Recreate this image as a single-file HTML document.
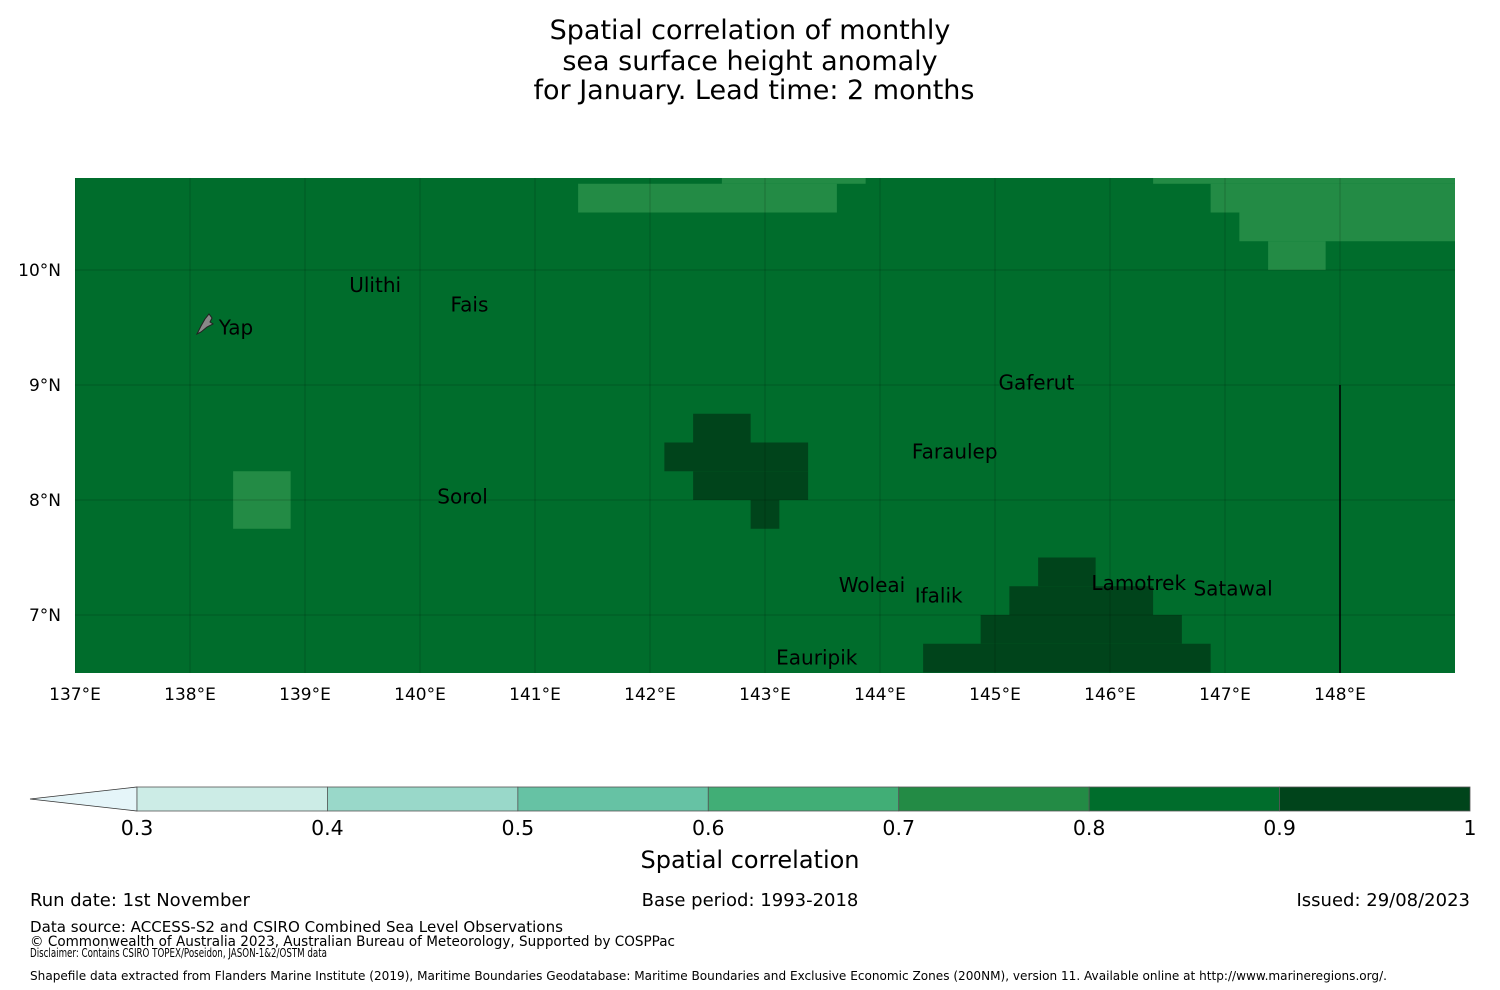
<!DOCTYPE html>
<html><head><meta charset="utf-8"><style>
html,body{margin:0;padding:0;background:#fff;}
svg{display:block;font-family:"DejaVu Sans","Liberation Sans",sans-serif;}
</style></head><body>
<svg id="chart" width="1500" height="990" viewBox="0 0 1500 990">
<g font-size="27" text-anchor="middle" fill="#000">
<text x="750" y="39">Spatial correlation of monthly</text>
<text x="750" y="70">sea surface height anomaly</text>
<text x="754" y="99">for January. Lead time: 2 months</text>
</g>
<defs><clipPath id="mapclip"><rect x="75" y="178" width="1380" height="495"/></clipPath></defs>
<g id="map" clip-path="url(#mapclip)"></g>
<g id="xticks" font-size="17" text-anchor="middle"></g>
<g id="yticks" font-size="17" text-anchor="end"></g>
<g id="cbar"></g>
<text x="750" y="868" font-size="24" text-anchor="middle">Spatial correlation</text>
<g fill="#000">
<text x="30" y="906" font-size="18">Run date: 1st November</text>
<text x="750" y="906" font-size="18" text-anchor="middle">Base period: 1993-2018</text>
<text x="1470" y="906" font-size="18" text-anchor="end">Issued: 29/08/2023</text>
<text x="30" y="932" font-size="15" textLength="533" lengthAdjust="spacingAndGlyphs">Data source: ACCESS-S2 and CSIRO Combined Sea Level Observations</text>
<text x="30" y="946" font-size="14" textLength="645" lengthAdjust="spacingAndGlyphs">© Commonwealth of Australia 2023, Australian Bureau of Meteorology, Supported by COSPPac</text>
<text x="30" y="957" font-size="12" textLength="297" lengthAdjust="spacingAndGlyphs">Disclaimer: Contains CSIRO TOPEX/Poseidon, JASON-1&amp;2/OSTM data</text>
<text x="30" y="980" font-size="12" textLength="1357" lengthAdjust="spacingAndGlyphs">Shapefile data extracted from Flanders Marine Institute (2019), Maritime Boundaries Geodatabase: Maritime Boundaries and Exclusive Economic Zones (200NM), version 11. Available online at http://www.marineregions.org/.</text>
</g>
</svg>
<script>
// Data
const background = 0.85;
// patches: [rowLatBottom, colStart, colEnd(inclusive), value]; col c => lon center 137+0.25c
const patchRows = [10.75,10.75,10.5,10.5,10.25,10.0,8.0,7.75,8.5,8.25,8.0,7.75,7.25,7.0,6.75,6.5];
const patchColStart = [23,38,18,40,41,42,6,6,22,21,22,24,34,33,32,30];
const patchColEnd = [27,48,26,48,48,43,7,7,23,25,25,24,35,37,38,39];
const patchValues = [0.75,0.75,0.75,0.75,0.75,0.75,0.75,0.75,0.95,0.95,0.95,0.95,0.95,0.95,0.95,0.95];
const levels = [0.3,0.4,0.5,0.6,0.7,0.8,0.9,1.0];
const levelColors = ["#ccece6","#99d8c9","#66c2a4","#41ae76","#238b45","#006d2c","#00441b"];
const lonTicks = [137,138,139,140,141,142,143,144,145,146,147,148];
const latTicks = [10,9,8,7];
const placeNames = ["Ulithi","Fais","Yap","Gaferut","Faraulep","Sorol","Woleai","Ifalik","Lamotrek","Satawal","Eauripik"];
const placeLon = [139.61,140.43,138.25,145.36,144.65,140.37,143.93,144.51,146.25,147.07,143.45];
const placeLat = [9.87,9.70,9.50,9.02,8.42,8.03,7.26,7.17,7.28,7.23,6.63];

const NS="http://www.w3.org/2000/svg";
const X = lon => 75 + (lon-137)*115;
const Y = lat => 270 - (lat-10)*115;
function colorOf(v){for(let i=0;i<levelColors.length;i++){if(v>=levels[i]&&v<levels[i+1])return levelColors[i];}return levelColors[levelColors.length-1];}
function mk(tag,attrs,parent){const e=document.createElementNS(NS,tag);for(const k in attrs)e.setAttribute(k,attrs[k]);parent.appendChild(e);return e;}

const map=document.getElementById('map');
const bg=mk('rect',{x:X(137),y:Y(11),width:X(149.2)-X(137),height:Y(6.4)-Y(11),fill:colorOf(background)},map);


for(let i=0;i<patchRows.length;i++){
  const x0=X(137+0.25*patchColStart[i]-0.125), x1=X(137+0.25*patchColEnd[i]+0.125);
  const y0=Y(patchRows[i]+0.25), y1=Y(patchRows[i]);
  const r=mk('rect',{x:x0,y:y0,width:x1-x0,height:y1-y0,fill:colorOf(patchValues[i])},map);
  
  
}
lonTicks.forEach(l=>{const g=mk('line',{x1:X(l),x2:X(l),y1:178,y2:673,stroke:'#000','stroke-opacity':0.18,'stroke-width':1},map);

});
latTicks.forEach(l=>{const g=mk('line',{x1:75,x2:1455,y1:Y(l),y2:Y(l),stroke:'#000','stroke-opacity':0.18,'stroke-width':1},map);

});
const eez=mk('line',{x1:X(148),x2:X(148),y1:Y(9),y2:673,stroke:'#000','stroke-width':1.5},map);


const yap=mk('path',{d:'M197,334 L201,326 L205,319 L209,314 L212,318 L210,322 L213,324 L207,327 L201,332 Z',fill:'#888',stroke:'#222','stroke-width':1},map);


for(let i=0;i<placeNames.length;i++){
  const t=mk('text',{x:X(placeLon[i]),y:Y(placeLat[i])+7,'font-size':20,'text-anchor':placeNames[i]==='Yap'?'start':'middle',fill:'#000'},map);
  t.textContent=placeNames[i];
  
  
}
const xt=document.getElementById('xticks');
lonTicks.forEach(l=>{const t=mk('text',{x:X(l),y:700},xt);t.textContent=l+'°E';

});
const yt=document.getElementById('yticks');
latTicks.forEach(l=>{const t=mk('text',{x:61,y:Y(l)+6},yt);t.textContent=l+'°N';

});
const cb=document.getElementById('cbar');
const CX=v=>137+(v-0.3)/0.7*1333;
const tri=mk('polygon',{points:`30,799 ${CX(0.3)},787 ${CX(0.3)},811`,fill:'#e5f5f9',stroke:'#333','stroke-width':0.8},cb);


for(let i=0;i<levelColors.length;i++){
  const r=mk('rect',{x:CX(levels[i]),y:787,width:CX(levels[i+1])-CX(levels[i]),height:24,fill:levelColors[i],stroke:'#555','stroke-width':0.8},cb);
  
  
}
levels.forEach(v=>{const t=mk('text',{x:CX(v),y:835,'font-size':20.5,'text-anchor':'middle'},cb);t.textContent=(v===1?'1':v.toFixed(1));

});
</script>
</body></html>
